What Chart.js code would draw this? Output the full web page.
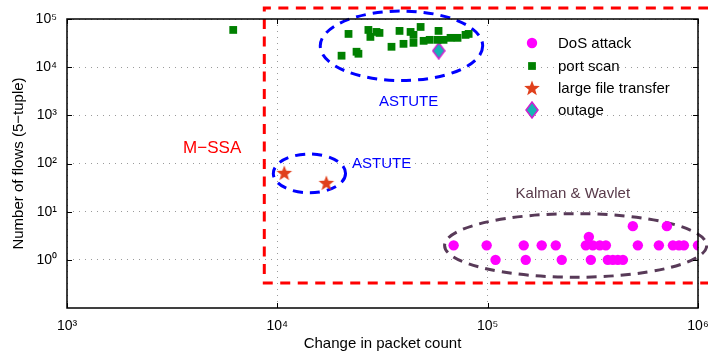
<!DOCTYPE html>
<html>
<head>
<meta charset="utf-8">
<script src="https://cdn.jsdelivr.net/npm/chart.js@4"></script>
<style>
html, body { margin: 0; padding: 0; background: #fff; }
</style>
</head>
<body>
<canvas id="chart" width="708" height="356"></canvas>
<script>
// tick values (decades)
const xTicks = [1e3, 1e4, 1e5, 1e6];
const yTicks = [1, 10, 100, 1e3, 1e4, 1e5];

// DoS attack
const dosX = [68900, 98900, 148400, 180700, 210800, 293000, 316200, 341300, 364700, 517600, 651600, 760000, 812000, 857000, 1000000,
              109000, 151700, 225000, 309400, 372600, 393700, 415800, 439600,
              302800, 490000, 711300];
const dosY = [2, 2, 2, 2, 2, 2, 2, 2, 2, 2, 2, 2, 2, 2, 2,
              1, 1, 1, 1, 1, 1, 1, 1,
              3, 5, 5];

// port scan
const scanX = [6170, 20200, 21800, 23800, 24300, 27100, 27700, 29600, 30600, 34900, 38100, 39800, 43000, 44400, 44400,
               48000, 49600, 53000, 57800, 58400, 61700, 66600, 71900, 78500, 81200];
const scanY = [59300, 17300, 49000, 20900, 19000, 59300, 42500, 53900, 51400, 26500, 56600, 30500, 53900, 46800, 32000,
               68400, 35200, 36900, 36900, 56600, 36900, 40600, 40600, 46800, 49000];

// large file transfer
const fileX = [10790, 17100];
const fileY = [63.7, 39.6];

// outage
const outX = [58500];
const outY = [21900];

// annotation shapes (data coordinates)
const boxX = [8670, 1120000];
const boxY = [0.33, 169000];
const ellipseX = [[16000, 94700], [9570, 21100], [62400, 1100000]];
const ellipseY = [[5270, 146000], [24.7, 157], [0.435, 9.1]];
const ellipseColor = ['#0000ff', '#0000ff', '#583a58'];
const noteText = ['M\u2212SSA', 'ASTUTE', 'ASTUTE', 'Kalman & Wavlet'];
const noteX = [4900, 42100, 31300, 254000];
const noteY = [209, 1950, 97.7, 23.5];
const noteColor = ['#ff0000', '#0000ff', '#0000ff', '#583a4a'];
const noteSize = [17, 15, 15, 15];

const pts = (xs, ys) => xs.map((x, i) => ({ x: x, y: ys[i] }));
const sup = { '0': '\u2070', '1': '\u00b9', '2': '\u00b2', '3': '\u00b3', '4': '\u2074', '5': '\u2075', '6': '\u2076' };
const pow10 = v => '10' + String(Math.round(Math.log10(v))).split('').map(c => sup[c]).join('');

// custom marker images
function starImg() {
    const c = document.createElement('canvas');
    c.width = 18; c.height = 18;
    const g = c.getContext('2d');
    g.beginPath();
    for (let i = 0; i < 10; i++) {
        const r = i % 2 ? 3.4 : 8.2;
        const a = -Math.PI / 2 + i * Math.PI / 5;
        g.lineTo(9 + r * Math.cos(a), 9.6 + r * Math.sin(a));
    }
    g.closePath();
    g.fillStyle = '#e0401c';
    g.fill();
    return c;
}
function diamondImg() {
    const c = document.createElement('canvas');
    c.width = 14; c.height = 18;
    const g = c.getContext('2d');
    g.beginPath();
    g.moveTo(7, 1); g.lineTo(13, 9); g.lineTo(7, 17); g.lineTo(1, 9);
    g.closePath();
    g.fillStyle = '#14b4b4';
    g.fill();
    g.lineWidth = 1.5;
    g.strokeStyle = '#d020d0';
    g.stroke();
    return c;
}
const star = starImg();
const diamond = diamondImg();

const annotations = {
    id: 'annotations',
    beforeDatasetsDraw(chart) {
        const ctx = chart.ctx, xs = chart.scales.x, ys = chart.scales.y;
        ctx.save();
        // M-SSA box
        const l = xs.getPixelForValue(boxX[0]), r = xs.getPixelForValue(boxX[1]);
        const b = ys.getPixelForValue(boxY[0]), t = ys.getPixelForValue(boxY[1]);
        ctx.strokeStyle = '#ff0000';
        ctx.lineWidth = 3;
        ctx.setLineDash([10, 7.5]);
        ctx.beginPath();
        ctx.moveTo(r, t); ctx.lineTo(l, t); ctx.lineTo(l, b); ctx.lineTo(r, b);
        ctx.stroke();
        // ellipses
        ellipseX.forEach((ex, i) => {
            const x0 = xs.getPixelForValue(ex[0]), x1 = xs.getPixelForValue(ex[1]);
            const y0 = ys.getPixelForValue(ellipseY[i][0]), y1 = ys.getPixelForValue(ellipseY[i][1]);
            ctx.strokeStyle = ellipseColor[i];
            ctx.lineWidth = 3;
            ctx.setLineDash([10, 7]);
            ctx.beginPath();
            ctx.ellipse((x0 + x1) / 2, (y0 + y1) / 2, Math.abs(x1 - x0) / 2, Math.abs(y1 - y0) / 2, 0, 0, Math.PI * 2);
            ctx.stroke();
        });
        ctx.setLineDash([]);
        // labels
        ctx.textAlign = 'center';
        ctx.textBaseline = 'middle';
        noteText.forEach((s, i) => {
            ctx.font = noteSize[i] + 'px "Liberation Sans", Arial, sans-serif';
            ctx.fillStyle = noteColor[i];
            ctx.fillText(s, xs.getPixelForValue(noteX[i]), ys.getPixelForValue(noteY[i]));
        });
        ctx.restore();
    },
    afterDraw(chart) {
        const ctx = chart.ctx, a = chart.chartArea, xs = chart.scales.x, ys = chart.scales.y;
        ctx.save();
        // frame and inward ticks
        ctx.strokeStyle = '#000';
        ctx.lineWidth = 1.5;
        ctx.strokeRect(a.left, a.top, a.right - a.left, a.bottom - a.top);
        ctx.lineWidth = 1;
        ctx.beginPath();
        xTicks.forEach(v => {
            const x = Math.round(xs.getPixelForValue(v)) + 0.5;
            ctx.moveTo(x, a.bottom); ctx.lineTo(x, a.bottom - 5);
            ctx.moveTo(x, a.top); ctx.lineTo(x, a.top + 5);
        });
        yTicks.forEach(v => {
            const y = Math.round(ys.getPixelForValue(v)) + 0.5;
            ctx.moveTo(a.left, y); ctx.lineTo(a.left + 5, y);
            ctx.moveTo(a.right, y); ctx.lineTo(a.right - 5, y);
        });
        ctx.stroke();
        // legend
        const lx = 532, ly = [43, 66, 88, 110];
        ctx.font = '15px "Liberation Sans", Arial, sans-serif';
        ctx.textAlign = 'left';
        ctx.textBaseline = 'middle';
        chart.data.datasets.forEach((ds, i) => {
            ctx.fillStyle = ds.backgroundColor;
            ctx.strokeStyle = ds.borderColor;
            Chart.helpers.drawPoint(ctx, { pointStyle: ds.pointStyle, radius: ds.pointRadius, rotation: 0, borderWidth: ds.borderWidth }, lx, ly[i]);
            ctx.fillStyle = '#000';
            ctx.fillText(ds.label, 558, ly[i] + 1);
        });
        ctx.restore();
    }
};

const font = { family: '"Liberation Sans", Arial, sans-serif', size: 14 };

new Chart(document.getElementById('chart'), {
    type: 'scatter',
    data: {
        datasets: [
            { label: 'DoS attack', data: pts(dosX, dosY), pointStyle: 'circle', pointRadius: 5.2, backgroundColor: '#ff00ff', borderColor: '#ff00ff', borderWidth: 0 },
            { label: 'port scan', data: pts(scanX, scanY), pointStyle: 'rect', pointRadius: 5.5, backgroundColor: '#008000', borderColor: '#008000', borderWidth: 0 },
            { label: 'large file transfer', data: pts(fileX, fileY), pointStyle: star, pointRadius: 8, backgroundColor: '#e0401c', borderColor: '#e0401c', borderWidth: 0 },
            { label: 'outage', data: pts(outX, outY), pointStyle: diamond, pointRadius: 7, backgroundColor: '#14b4b4', borderColor: '#d020d0', borderWidth: 0 }
        ]
    },
    options: {
        responsive: false,
        animation: false,
        devicePixelRatio: 1,
        layout: { padding: { top: 19, right: 10, left: 0, bottom: 0 } },
        plugins: { legend: { display: false }, tooltip: { enabled: false } },
        scales: {
            x: {
                type: 'logarithmic',
                min: 1e3,
                max: 1e6,
                afterBuildTicks: s => { s.ticks = xTicks.map(v => ({ value: v })); },
                afterFit: s => { s.height = 48; s.paddingLeft = 0; s.paddingRight = 0; },
                ticks: { callback: v => pow10(v), font: font, color: '#000', padding: 10, maxRotation: 0, autoSkip: false },
                grid: { color: '#9a9a9a', lineWidth: 1, drawTicks: false },
                border: { display: false, dash: [1, 5] },
                title: { display: true, text: 'Change in packet count', font: { family: font.family, size: 15 }, color: '#000', padding: { top: 0, bottom: 3 } }
            },
            y: {
                type: 'logarithmic',
                min: 0.1,
                max: 1e5,
                afterBuildTicks: s => { s.ticks = yTicks.map(v => ({ value: v })); },
                afterFit: s => { s.width = 67; s.paddingTop = 0; s.paddingBottom = 0; },
                ticks: { callback: v => pow10(v), font: font, color: '#000', padding: 10, autoSkip: false },
                grid: { color: '#9a9a9a', lineWidth: 1, drawTicks: false },
                border: { display: false, dash: [1, 5] },
                title: { display: true, text: 'Number of flows (5\u2212tuple)', font: { family: font.family, size: 15 }, color: '#000', padding: { top: 10, bottom: 0 } }
            }
        }
    },
    plugins: [annotations]
});
</script>
</body>
</html>
